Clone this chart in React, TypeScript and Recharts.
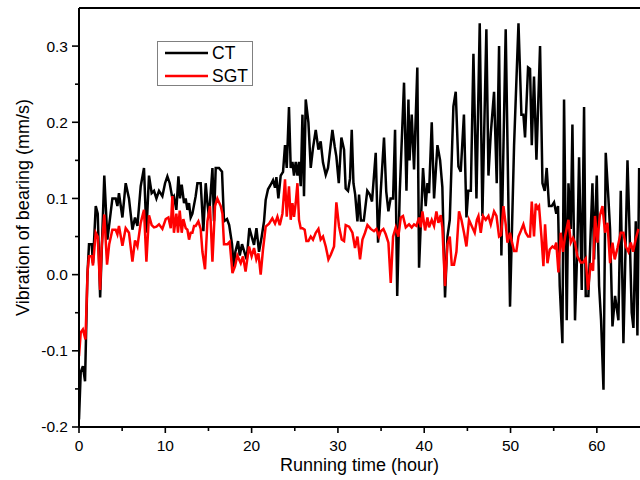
import { LineChart, Line, XAxis, YAxis, ReferenceLine } from "recharts";

// CT (conventional) bearing vibration
const ctHours = [
  0, 0.2, 0.45, 0.7, 0.97, 1.16, 1.47, 1.62, 1.94, 2.17, 2.45, 2.93, 3.29, 3.87, 4.25, 4.45, 4.63, 5.03, 5.41, 5.79,
  6.19, 6.49, 6.77, 7.15, 7.53, 7.81, 8.11, 8.42, 8.69, 8.97, 9.27, 9.66, 9.97, 10.24, 10.51, 10.82, 11.0, 11.28, 11.52, 11.7,
  11.9, 12.17, 12.36, 12.56, 12.75, 12.94, 13.14, 13.52, 13.72, 14.1, 14.41, 14.68, 14.88, 15.06, 15.46, 15.64, 15.84, 16.22, 16.57, 16.8,
  17.15, 17.4, 17.73, 17.93, 18.12, 18.43, 18.62, 18.89, 19.16, 19.43, 19.74, 20.01, 20.28, 20.56, 20.86, 21.17, 21.44, 21.63, 21.9, 22.21,
  22.48, 22.71, 22.87, 23.1, 23.37, 23.64, 23.87, 24.07, 24.33, 24.53, 24.73, 24.91, 25.11, 25.31, 25.49, 25.69, 25.89, 26.07, 26.27, 26.58,
  26.85, 27.11, 27.43, 27.74, 28.0, 28.27, 28.59, 28.85, 29.36, 29.63, 29.82, 30.1, 30.4, 30.71, 30.9, 31.17, 31.4, 31.6, 31.8, 32.0,
  32.26, 32.45, 32.66, 33.0, 33.4, 33.7, 33.95, 34.38, 34.65, 34.96, 35.34, 35.6, 35.85, 36.1, 36.39, 36.62, 36.87, 37.16, 37.66, 37.94,
  38.17, 38.3, 38.55, 38.82, 39.2, 39.4, 39.86, 40.17, 40.37, 40.56, 40.87, 41.14, 41.53, 41.84, 42.1, 42.41, 42.69, 42.96, 43.38, 43.65,
  43.96, 44.23, 44.6, 44.89, 45.1, 45.4, 45.7, 46.05, 46.43, 46.74, 47.2, 47.44, 47.71, 48.09, 48.4, 48.67, 48.94, 49.44, 49.94, 50.41,
  50.92, 51.26, 51.49, 51.68, 52.03, 52.26, 52.46, 52.72, 53.0, 53.42, 53.7, 53.96, 54.19, 54.46, 54.77, 55.04, 55.3, 55.5, 55.7, 56.01,
  56.2, 56.51, 56.71, 56.98, 57.17, 57.47, 57.75, 57.94, 58.25, 58.52, 58.71, 59.02, 59.49, 59.68, 59.99, 60.26, 60.49, 60.77, 61.03, 61.34,
  61.53, 61.81, 62.11, 62.5, 62.77, 63.08, 63.55, 63.81, 64.04, 64.24, 64.51, 64.7, 64.9,
];
const ctValues = [
  -0.19, -0.128, -0.12, -0.14, -0.002, 0.04, 0.04, 0.015, 0.09, 0.08, -0.03, 0.13, 0.046, 0.1, 0.1, 0.09, 0.107, 0.075, 0.12, 0.1,
  0.059, 0.075, 0.064, 0.116, 0.14, 0.055, 0.13, 0.107, 0.11, 0.1, 0.11, 0.103, 0.12, 0.129, 0.12, 0.1, 0.103, 0.085, 0.129, 0.1,
  0.118, 0.094, 0.1, 0.085, 0.094, 0.075, 0.08, 0.103, 0.12, 0.12, 0.057, 0.12, 0.094, 0.075, 0.14, 0.07, 0.14, 0.14, 0.135, 0.07,
  0.073, 0.065, 0.04, 0.01, 0.03, 0.044, 0.025, 0.04, 0.03, 0.02, 0.061, 0.05, 0.039, 0.061, 0.03, 0.05, 0.07, 0.098, 0.112, 0.118,
  0.124, 0.114, 0.128, 0.1, 0.13, 0.135, 0.17, 0.14, 0.22, 0.14, 0.148, 0.13, 0.148, 0.13, 0.148, 0.116, 0.21, 0.103, 0.23, 0.2,
  0.14, 0.166, 0.19, 0.164, 0.175, 0.147, 0.131, 0.14, 0.19, 0.168, 0.155, 0.12, 0.18, 0.164, 0.113, 0.11, 0.126, 0.19, 0.12, 0.105,
  0.07, 0.105, 0.071, 0.071, 0.11, 0.105, 0.096, 0.16, 0.042, 0.109, 0.18, 0.109, 0.083, 0.1, 0.1, 0.19, -0.028, 0.107, 0.252, 0.11,
  0.23, 0.15, 0.21, 0.138, 0.272, 0.009, 0.14, 0.09, 0.12, 0.107, 0.2, 0.1, 0.17, 0.15, 0.115, -0.03, 0.05, 0.072, 0.221, 0.24,
  0.142, 0.135, 0.21, 0.075, 0.11, 0.11, 0.29, 0.1, 0.33, 0.077, 0.322, 0.13, 0.185, 0.24, 0.12, 0.3, 0.025, 0.322, -0.042, 0.17,
  0.33, 0.21, 0.21, 0.18, 0.272, 0.27, 0.17, 0.26, 0.151, 0.3, 0.12, 0.11, 0.14, 0.09, 0.09, 0.095, 0.08, 0.09, -0.015, -0.09,
  0.23, -0.06, 0.12, 0.06, 0.197, -0.06, 0.04, 0.154, -0.02, 0.22, -0.028, -0.028, 0.12, 0.02, 0.13, -0.015, -0.06, -0.151, 0.16, 0.1,
  0.06, -0.068, -0.028, -0.06, 0.11, -0.09, 0.15, 0.05, -0.05, -0.07, 0.07, -0.08, 0.14,
];

// SGT bearing vibration
const sgtHours = [
  0, 0.2, 0.45, 0.75, 1.0, 1.16, 1.47, 1.62, 1.94, 2.17, 2.45, 2.62, 2.93, 3.25, 3.5, 3.87, 4.25, 4.45, 4.63, 5.03,
  5.41, 5.79, 6.19, 6.49, 6.77, 7.15, 7.53, 7.81, 8.11, 8.42, 8.69, 8.97, 9.27, 9.66, 10.05, 10.36, 10.63, 10.82, 11.0, 11.28,
  11.47, 11.67, 11.9, 12.09, 12.36, 12.56, 12.75, 12.94, 13.14, 13.33, 13.52, 13.83, 14.1, 14.3, 14.6, 14.88, 15.18, 15.46, 15.76, 16.03,
  16.42, 16.62, 16.8, 17.2, 17.46, 17.78, 18.08, 18.35, 18.74, 19.0, 19.3, 19.7, 20.0, 20.28, 20.55, 20.79, 21.05, 21.32, 21.63, 22.02,
  22.4, 22.71, 22.99, 23.26, 23.57, 23.87, 24.07, 24.33, 24.53, 24.73, 24.91, 25.11, 25.31, 25.49, 25.69, 25.89, 26.15, 26.35, 26.58, 26.85,
  27.11, 27.43, 27.74, 28.0, 28.27, 28.59, 28.9, 29.17, 29.55, 29.82, 30.13, 30.44, 30.71, 30.9, 31.29, 31.68, 31.98, 32.26, 32.56, 32.84,
  33.14, 33.42, 33.8, 34.18, 34.46, 34.76, 34.96, 35.27, 35.54, 35.85, 36.12, 36.39, 36.7, 37.0, 37.28, 37.54, 37.86, 38.24, 38.55, 38.82,
  39.1, 39.4, 39.6, 39.79, 40.1, 40.37, 40.56, 40.87, 41.14, 41.41, 41.64, 41.91, 42.1, 42.41, 42.69, 42.96, 43.19, 43.45, 43.73, 44.03,
  44.31, 44.61, 44.89, 45.19, 45.5, 45.85, 46.1, 46.28, 46.55, 46.81, 47.13, 47.44, 47.71, 48.09, 48.37, 48.67, 48.9, 49.18, 49.44, 49.64,
  49.94, 50.14, 50.41, 50.68, 50.92, 51.18, 51.49, 51.76, 52.03, 52.26, 52.46, 52.72, 52.92, 53.12, 53.3, 53.58, 53.81, 54.0, 54.28, 54.54,
  54.86, 55.1, 55.3, 55.55, 55.82, 56.08, 56.32, 56.71, 56.98, 57.24, 57.47, 57.75, 58.13, 58.4, 58.71, 58.98, 59.29, 59.56, 59.79, 60.07,
  60.34, 60.65, 60.95, 61.23, 61.53, 61.81, 62.07, 62.39, 62.77, 63.08, 63.35, 63.66, 63.93, 64.2, 64.51, 64.82,
];
const sgtValues = [
  -0.107, -0.076, -0.072, -0.085, 0.005, 0.024, 0.024, 0.012, 0.055, 0.05, -0.02, 0.035, 0.079, 0.013, 0.04, 0.059, 0.059, 0.053, 0.064, 0.038,
  0.061, 0.055, 0.017, 0.045, 0.037, 0.068, 0.085, 0.017, 0.078, 0.065, 0.062, 0.063, 0.066, 0.06, 0.073, 0.075, 0.061, 0.103, 0.055, 0.08,
  0.055, 0.084, 0.055, 0.073, 0.061, 0.059, 0.046, 0.055, 0.055, 0.064, 0.064, 0.07, 0.06, 0.03, 0.007, 0.07, 0.09, 0.017, 0.09, 0.1,
  0.09, 0.08, 0.04, 0.04, 0.043, 0.002, 0.011, 0.025, 0.015, 0.024, 0.004, 0.037, 0.024, 0.035, 0.02, 0.028, 0.0, 0.033, 0.063, 0.067,
  0.074, 0.067, 0.076, 0.065, 0.08, 0.125, 0.076, 0.116, 0.072, 0.094, 0.076, 0.094, 0.12, 0.072, 0.061, 0.061, 0.059, 0.044, 0.044, 0.05,
  0.046, 0.055, 0.06, 0.046, 0.05, 0.037, 0.02, 0.026, 0.037, 0.095, 0.063, 0.046, 0.044, 0.065, 0.063, 0.055, 0.035, 0.05, 0.02, 0.046,
  0.055, 0.065, 0.06, 0.057, 0.06, 0.05, 0.057, 0.06, 0.053, 0.042, -0.011, 0.05, 0.062, 0.05, 0.075, 0.077, 0.062, 0.066, 0.062, 0.066,
  0.064, 0.075, 0.062, 0.083, 0.058, 0.075, 0.062, 0.072, 0.064, 0.083, 0.068, 0.078, 0.062, -0.015, 0.04, 0.05, 0.013, 0.013, 0.03, 0.083,
  0.072, 0.055, 0.037, 0.072, 0.064, 0.055, 0.072, 0.077, 0.055, 0.077, 0.072, 0.077, 0.066, 0.083, 0.077, 0.05, 0.052, 0.09, 0.066, 0.042,
  0.055, 0.044, 0.031, 0.031, 0.05, 0.057, 0.066, 0.055, 0.05, 0.05, 0.096, 0.05, 0.093, 0.087, 0.09, 0.05, 0.011, 0.066, 0.015, 0.033,
  0.037, 0.035, 0.042, 0.003, 0.055, 0.03, 0.05, 0.072, 0.042, 0.048, 0.042, 0.024, 0.016, 0.016, 0.021, -0.02, 0.015, 0.005, 0.077, 0.042,
  0.077, 0.09, 0.055, 0.068, 0.015, 0.042, 0.02, 0.035, 0.055, 0.055, 0.037, 0.03, 0.042, 0.03, 0.047, 0.06,
];

const xTicks = [0, 5, 10, 15, 20, 25, 30, 35, 40, 45, 50, 55, 60];
const yTicks = [-0.2, -0.15, -0.1, -0.05, 0, 0.05, 0.1, 0.15, 0.2, 0.25, 0.3];

const ctData = ctHours.map((h, i) => ({ h, v: ctValues[i] }));
const sgtData = sgtHours.map((h, i) => ({ h, v: sgtValues[i] }));

const FONT = '"Liberation Sans", Arial, Helvetica, sans-serif';

function XTick(props: any) {
  const { x, y, payload } = props;
  const major = payload.value % 10 === 0;
  return (
    <g>
      <line x1={x} x2={x} y1={y} y2={y + (major ? 6 : 4)} stroke="#000" strokeWidth={1.6} />
      {major && (
        <text x={x} y={y + 24} textAnchor="middle" fontSize={15.5} fontFamily={FONT} fill="#000">
          {payload.value}
        </text>
      )}
    </g>
  );
}

function YTick(props: any) {
  const { x, y, payload } = props;
  const v = payload.value;
  const major = Math.abs(v * 10 - Math.round(v * 10)) < 1e-6;
  return (
    <g>
      <line x1={x} x2={x - (major ? 7 : 4)} y1={y} y2={y} stroke="#000" strokeWidth={1.6} />
      {major && (
        <text x={x - 11} y={y} dy="0.35em" textAnchor="end" fontSize={15.5} fontFamily={FONT} fill="#000">
          {v.toFixed(1)}
        </text>
      )}
    </g>
  );
}

export default function App() {
  return (
    <div style={{ position: "absolute", left: 0, top: 0, width: 640, height: 480, background: "#fff" }}>
      <LineChart width={640} height={480} margin={{ top: 8, right: 0, bottom: 0, left: 0 }}>
        <XAxis
          dataKey="h"
          type="number"
          domain={[0, 65]}
          ticks={xTicks}
          interval={0}
          height={53}
          tickSize={0}
          tickMargin={0}
          tickLine={false}
          tick={<XTick />}
          axisLine={{ stroke: "#000", strokeWidth: 2 }}
          allowDataOverflow
          label={{
            content: (p: any) => {
              const vb = p.viewBox;
              return (
                <text
                  x={vb.x + vb.width / 2}
                  y={vb.y + 44}
                  textAnchor="middle"
                  fontSize={18}
                  fontFamily={FONT}
                  fill="#000"
                >
                  Running time (hour)
                </text>
              );
            },
          }}
        />
        <YAxis
          dataKey="v"
          type="number"
          domain={[-0.2, 0.35]}
          ticks={yTicks}
          interval={0}
          width={79}
          tickSize={0}
          tickMargin={0}
          tickLine={false}
          tick={<YTick />}
          axisLine={{ stroke: "#000", strokeWidth: 2 }}
          allowDataOverflow
          label={{
            content: (p: any) => {
              const vb = p.viewBox;
              const cx = vb.x + 23;
              const cy = vb.y + vb.height / 2 - 10;
              return (
                <text
                  x={cx}
                  y={cy}
                  dy="0.35em"
                  transform={`rotate(-90 ${cx} ${cy})`}
                  textAnchor="middle"
                  fontSize={18}
                  fontFamily={FONT}
                  fill="#000"
                >
                  Vibration of bearing (mm/s)
                </text>
              );
            },
          }}
        />
        <ReferenceLine y={0.35} stroke="#000" strokeWidth={2} />
        <Line
          data={ctData}
          dataKey="v"
          name="CT"
          type="linear"
          stroke="#000000"
          strokeWidth={2.5}
          dot={false}
          isAnimationActive={false}
        />
        <Line
          data={sgtData}
          dataKey="v"
          name="SGT"
          type="linear"
          stroke="#ff0000"
          strokeWidth={2.5}
          dot={false}
          isAnimationActive={false}
        />
      </LineChart>
      <div
        style={{
          position: "absolute",
          left: 157,
          top: 41,
          width: 96,
          height: 45,
          boxSizing: "border-box",
          border: "1px solid #808080",
          background: "#fff",
          fontFamily: FONT,
          fontSize: 17.5,
          color: "#000",
        }}
      >
        {[
          { name: "CT", color: "#000000", top: 11 },
          { name: "SGT", color: "#ff0000", top: 34 },
        ].map((item) => (
          <div key={item.name} style={{ position: "absolute", left: 6, top: item.top - 11, height: 22, display: "flex", alignItems: "center" }}>
            <svg width={44} height={22} style={{ display: "block" }}>
              <line x1={1} x2={44} y1={11} y2={11} stroke={item.color} strokeWidth={2.5} />
            </svg>
            <span style={{ marginLeft: 4, lineHeight: "22px" }}>{item.name}</span>
          </div>
        ))}
      </div>
    </div>
  );
}
